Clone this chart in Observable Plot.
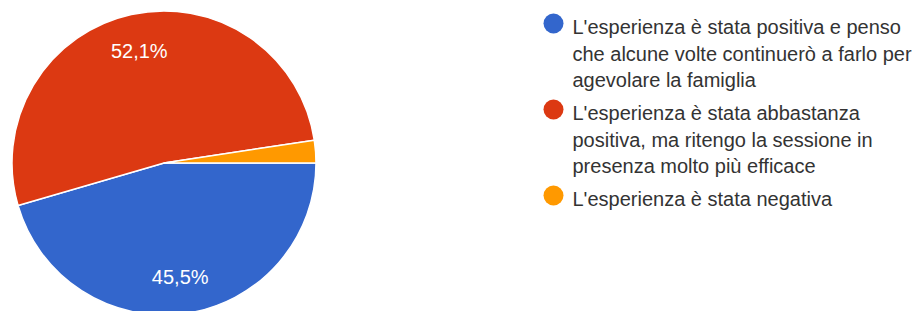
<!DOCTYPE html>
<html><head><meta charset="utf-8">
<script src="https://cdn.jsdelivr.net/npm/d3@7"></script>
<script src="https://cdn.jsdelivr.net/npm/@observablehq/plot@0.6"></script>
<style>html,body{margin:0;padding:0;background:#fff;overflow:hidden} svg{overflow:hidden;display:block}</style>
</head><body><div id="chart"></div>
<script>
const categories = [
  "L'esperienza è stata positiva e penso che alcune volte continuerò a farlo per agevolare la famiglia",
  "L'esperienza è stata abbastanza positiva, ma ritengo la sessione in presenza molto più efficace",
  "L'esperienza è stata negativa"
];
const legendLabels = [
  "L'esperienza è stata positiva e penso\nche alcune volte continuerò a farlo per\nagevolare la famiglia",
  "L'esperienza è stata abbastanza\npositiva, ma ritengo la sessione in\npresenza molto più efficace",
  "L'esperienza è stata negativa"
];
const percentages = [45.5, 52.1, 2.4];
const colors = ["#3366cc", "#dc3912", "#ff9900"];

const rows = categories.map((c, i) => ({category: c, value: percentages[i], label: legendLabels[i]}));

const cx = 164, cy = 163, R = 152, labelR = 115;

function pieMark(index, scales, values, dimensions) {
  const color = (scales && scales.color) ? scales.color : (d => colors[categories.indexOf(d)]);
  const arcs = d3.pie().sort(null).value(d => d.value)
    .startAngle(Math.PI / 2).endAngle(Math.PI / 2 + 2 * Math.PI)(rows);
  const arc = d3.arc().innerRadius(0).outerRadius(R);
  const labelArc = d3.arc().innerRadius(labelR).outerRadius(labelR);
  const g = d3.create("svg:g").attr("transform", `translate(${cx},${cy})`);
  g.selectAll("path").data(arcs).join("path")
    .attr("d", arc)
    .attr("fill", d => color(d.data.category))
    .attr("stroke", "#fff").attr("stroke-width", 1.5).attr("stroke-linejoin", "round");
  g.selectAll("text").data(arcs.filter(d => d.data.value > 5)).join("text")
    .attr("transform", d => `translate(${labelArc.centroid(d)})`)
    .attr("text-anchor", "middle").attr("dy", "0.35em")
    .attr("fill", "#fff").attr("font-size", 20)
    .text(d => d.data.value.toFixed(1).replace(".", ",") + "%");
  return g.node();
}

const chart = Plot.plot({
  width: 924,
  height: 311,
  margin: 0,
  style: {fontFamily: "'Liberation Sans', Arial, sans-serif", fontSize: "20px", background: "#fff"},
  y: {type: "point", domain: categories, range: [22, 195], padding: 0, axis: null},
  color: {domain: categories, range: colors},
  marks: [
    pieMark,
    Plot.dot(rows, {y: "category", fill: "category", r: 10, frameAnchor: "left", dx: 553}),
    Plot.text(rows, {y: "category", text: "label", frameAnchor: "left", dx: 572, textAnchor: "start",
      lineAnchor: "top", dy: -8, lineHeight: 1.32, fill: "#333", fontSize: 20})
  ]
});
document.getElementById("chart").appendChild(chart);
</script>
</body></html>
